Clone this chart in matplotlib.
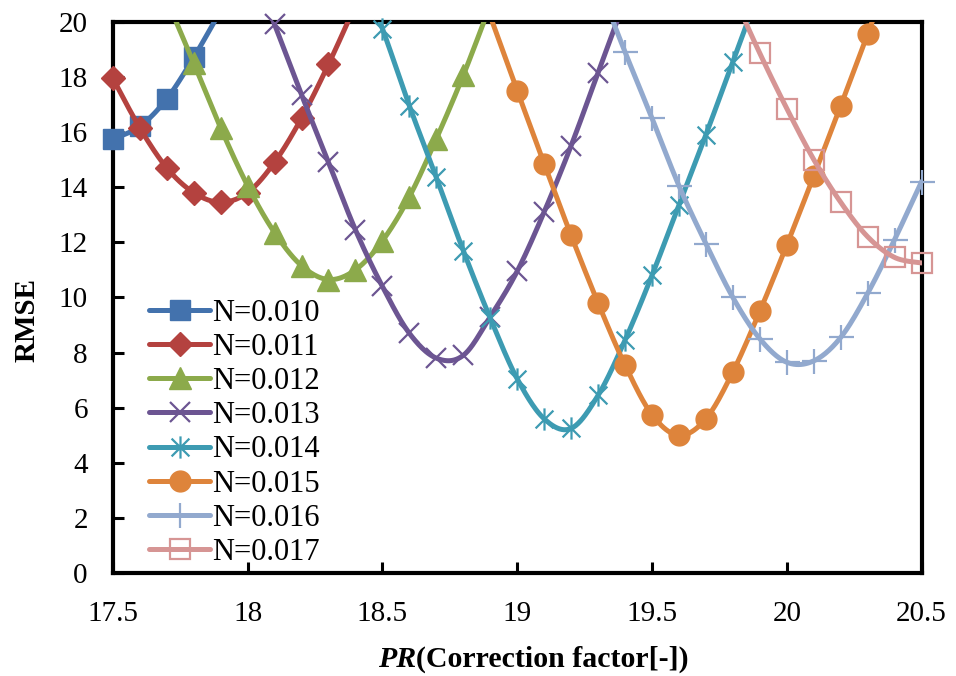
import numpy as np
import matplotlib
matplotlib.use("Agg")
import matplotlib.pyplot as plt
from matplotlib.lines import Line2D
from matplotlib.path import Path

nan = np.nan

# PR (correction factor) grid, 17.5 ... 20.5
pr = [17.5, 17.6, 17.7, 17.8, 17.9, 18.0, 18.1, 18.2, 18.3, 18.4, 18.5,
      18.6, 18.7, 18.8, 18.9, 19.0, 19.1, 19.2, 19.3, 19.4, 19.5,
      19.6, 19.7, 19.8, 19.9, 20.0, 20.1, 20.2, 20.3, 20.4, 20.5]

labels = ["N=0.010", "N=0.011", "N=0.012", "N=0.013",
          "N=0.014", "N=0.015", "N=0.016", "N=0.017"]

# RMSE per roughness coefficient (values above 20 are off the chart)
rmse_010 = [15.75, 16.2, 17.2, 18.7, 20.4] + [nan] * 26
rmse_011 = [17.95, 16.15, 14.7, 13.8, 13.45, 13.8, 14.9, 16.5, 18.45, 20.6] + [nan] * 21
rmse_012 = [nan, nan, 20.8, 18.5, 16.15, 14.05, 12.35, 11.15, 10.65, 11.0, 12.05,
            13.65, 15.75, 18.05, 20.6] + [nan] * 16
rmse_013 = [nan] * 5 + [22.4, 19.9, 17.35, 14.9, 12.45, 10.4, 8.7, 7.8, 7.9, 9.3,
                        10.95, 13.1, 15.5, 18.15, 20.8] + [nan] * 11
rmse_014 = [nan] * 9 + [22.3, 19.75, 16.95, 14.35, 11.7, 9.25, 7.05, 5.6, 5.25, 6.45,
                        8.45, 10.8, 13.35, 15.9, 18.55, 21.2] + [nan] * 6
rmse_015 = [nan] * 14 + [20.2, 17.5, 14.85, 12.25, 9.8, 7.55, 5.75, 5.0, 5.6, 7.3,
                         9.5, 11.9, 14.4, 16.95, 19.55, 22.2, nan]
rmse_016 = [nan] * 18 + [21.4, 18.9, 16.5, 14.05, 11.95, 10.0, 8.5, 7.65, 7.7, 8.55,
                         10.15, 12.1, 14.2]
rmse_017 = [nan] * 23 + [21.0, 18.85, 16.85, 15.0, 13.45, 12.2, 11.45, 11.25]

series = [rmse_010, rmse_011, rmse_012, rmse_013, rmse_014, rmse_015, rmse_016, rmse_017]

colors = ["#4372AD", "#B4423F", "#8CAA4B", "#6C5592",
          "#3D9BB2", "#DE843B", "#92A9CE", "#D69594"]

# Excel style "star": an x with a vertical bar
star = Path([(-1, -1), (1, 1), (-1, 1), (1, -1), (0, -1.25), (0, 1.25)],
            [Path.MOVETO, Path.LINETO, Path.MOVETO, Path.LINETO, Path.MOVETO, Path.LINETO])

marker_styles = [
    dict(marker="s", markersize=15, mfc=colors[0], mec=colors[0]),
    dict(marker="D", markersize=12, mfc=colors[1], mec=colors[1]),
    dict(marker="^", markersize=16, mfc=colors[2], mec=colors[2]),
    dict(marker="x", markersize=14, mew=1.6, mec=colors[3]),
    dict(marker=star, markersize=16, mew=1.6, mec=colors[4], mfc="none"),
    dict(marker="o", markersize=15, mfc=colors[5], mec=colors[5]),
    dict(marker="+", markersize=18, mew=1.6, mec=colors[6]),
    dict(marker="s", markersize=15, mfc="none", mew=1.6, mec=colors[7]),
]


def smooth(x, y, n=24):
    # Catmull-Rom style curve through the points (like Excel's smoothed line)
    px, py = [], []
    m = len(x)
    for i in range(m - 1):
        p0 = (x[max(i - 1, 0)], y[max(i - 1, 0)])
        p1 = (x[i], y[i])
        p2 = (x[i + 1], y[i + 1])
        p3 = (x[min(i + 2, m - 1)], y[min(i + 2, m - 1)])
        c1 = (p1[0] + (p2[0] - p0[0]) / 6, p1[1] + (p2[1] - p0[1]) / 6)
        c2 = (p2[0] - (p3[0] - p1[0]) / 6, p2[1] - (p3[1] - p1[1]) / 6)
        t = np.linspace(0, 1, n)
        a, b, c, d = (1 - t) ** 3, 3 * (1 - t) ** 2 * t, 3 * (1 - t) * t ** 2, t ** 3
        px.extend(a * p1[0] + b * c1[0] + c * c2[0] + d * p2[0])
        py.extend(a * p1[1] + b * c1[1] + c * c2[1] + d * p2[1])
    return np.array(px), np.array(py)


plt.rcParams["font.family"] = ["Liberation Serif", "DejaVu Serif"]

fig = plt.figure(figsize=(9.56, 6.76), dpi=100)
ax = fig.add_axes([0.118, 0.152, 0.846, 0.816])

x_all = np.array(pr)
handles = []
for i, vals in enumerate(series):
    y_all = np.array(vals, dtype=float)
    ok = ~np.isnan(y_all)
    sx, sy = smooth(x_all[ok], y_all[ok])
    ax.plot(sx, sy, color=colors[i], lw=3.6, solid_capstyle="round", zorder=3 + i * 0.1)
    vis = ok & (y_all <= 20)
    ax.plot(x_all[vis], y_all[vis], linestyle="none", clip_on=False,
            zorder=3.05 + i * 0.1, **marker_styles[i])
    handles.append(Line2D([], [], color=colors[i], lw=3.6, solid_capstyle="round",
                          **marker_styles[i]))

ax.set_xlim(17.5, 20.5)
ax.set_ylim(0, 20)
ax.set_xticks([17.5, 18, 18.5, 19, 19.5, 20, 20.5])
ax.set_xticklabels(["17.5", "18", "18.5", "19", "19.5", "20", "20.5"])
ax.set_yticks(range(0, 21, 2))
ax.tick_params(direction="in", length=8, width=2.2, labelsize=21)
ax.tick_params(axis="x", pad=20)
ax.tick_params(axis="y", pad=18)
for sp in ax.spines.values():
    sp.set_linewidth(3)

fig.text(0.028, 1 - 320 / 676, "RMSE", rotation=90, ha="center", va="center",
         fontsize=21, fontweight="bold")
t1 = fig.text(378 / 956, 0.013, "PR", fontsize=21.5, fontweight="bold", style="italic",
              va="baseline")
ax.annotate("(Correction factor[-])", xy=(1, 0), xycoords=t1, va="bottom",
            fontsize=21.5, fontweight="bold")

ax.legend(handles, labels, loc="upper left", bbox_to_anchor=(0.045, 0.498),
          frameon=False, fontsize=22, handlelength=2.0, handletextpad=0.05,
          labelspacing=0.17, borderpad=0, borderaxespad=0)

fig.savefig("out.png", dpi=100)
